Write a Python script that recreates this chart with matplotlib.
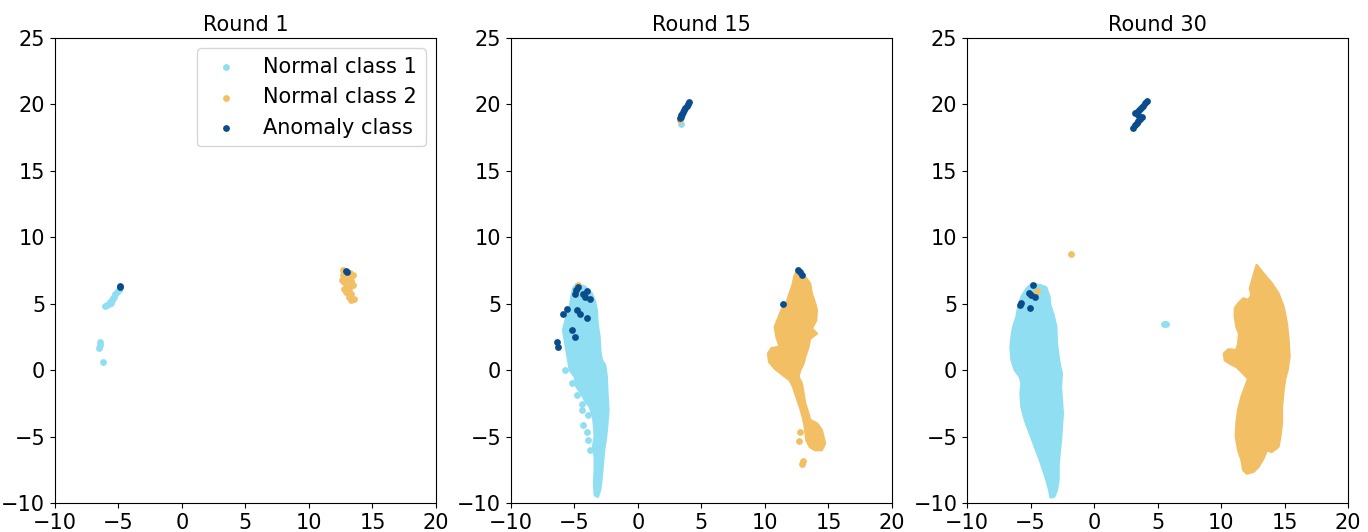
import matplotlib
matplotlib.use("Agg")
import matplotlib.pyplot as plt

# ---------------- data (data units) ----------------
titles = ["Round 1", "Round 15", "Round 30"]
class_names = ["Normal class 1", "Normal class 2", "Anomaly class"]
xticks = [-10, -5, 0, 5, 10, 15, 20]
yticks = [-10, -5, 0, 5, 10, 15, 20, 25]

# Round 1
r1_n1_x = [-5.90, -6.04, -5.78, -5.70, -5.51, -5.38, -5.25, -5.12, -4.99, -5.62, -5.45,
           -6.43, -6.49, -6.51, -6.25]
r1_n1_y = [4.89, 4.81, 4.96, 5.14, 5.31, 5.51, 5.71, 5.89, 6.07, 5.05, 5.40,
           2.13, 1.88, 1.70, 0.62]
r1_n2_x = [12.64, 13.43, 12.77, 13.43, 12.90, 13.30, 13.17, 13.56, 13.30, 12.64, 12.77,
           13.17, 13.04, 12.60, 13.30, 13.00, 13.20, 12.85]
r1_n2_y = [7.52, 7.14, 6.64, 6.39, 5.89, 5.76, 5.51, 5.39, 5.26, 7.14, 6.14,
           6.14, 6.89, 6.80, 6.70, 6.30, 7.30, 7.30]
r1_an_x = [-4.85, -4.90, 12.90, 13.02]
r1_an_y = [6.34, 6.28, 7.44, 7.42]

# Round 15 – dense cloud outlines
r15_n1_hull_x = [-4.83, -4.17, -3.65, -3.39, -3.25, -3.20, -3.04, -2.99, -2.86, -2.60, -2.47,
                 -2.42, -2.34, -2.42, -2.52, -2.68, -2.78, -2.86, -2.99, -3.17, -3.39, -3.44,
                 -3.39, -3.39, -3.52, -3.39, -3.44, -3.52, -3.78, -4.17, -4.44, -4.83, -4.96,
                 -5.35, -5.48, -5.62, -5.75, -5.88, -5.75, -5.62, -5.35, -5.22, -5.09]
r15_n1_hull_y = [6.47, 6.27, 5.77, 5.14, 4.51, 3.51, 2.51, 1.50, 0.75, 0.38, -0.50,
                 -1.75, -3.01, -4.01, -5.01, -6.02, -7.02, -8.02, -9.02, -9.52, -9.40, -8.52,
                 -7.52, -6.52, -5.76, -5.01, -4.26, -3.51, -2.76, -2.26, -1.75, -1.25, -0.50,
                 0.00, 0.75, 1.50, 2.26, 3.01, 3.51, 4.01, 4.76, 5.51, 6.14]
r15_n1_x = [-5.75, -5.22, -4.83, -4.44, -4.44, -3.91, -4.30, -4.04, -3.91, -3.78, 3.39]
r15_n1_y = [0.00, -1.00, -1.88, -2.51, -3.01, -3.38, -4.14, -4.64, -5.26, -6.02, 18.55]

r15_n2_hull_x = [12.62, 13.15, 13.54, 13.67, 13.94, 14.07, 14.02, 13.67, 14.07, 13.54, 13.41,
                 13.15, 13.02, 12.76, 12.62, 12.89, 13.02, 13.15, 13.41, 13.54, 14.07, 14.46,
                 14.72, 14.46, 13.94, 13.54, 13.28, 13.15, 13.02, 12.76, 12.49, 12.23, 11.97,
                 11.44, 10.79, 10.34, 10.26, 10.52, 11.18, 10.92, 10.79, 11.05, 11.31, 11.70,
                 11.91, 12.18, 12.36]
r15_n2_hull_y = [7.64, 7.02, 6.52, 5.77, 5.01, 4.51, 3.76, 3.13, 2.76, 2.38, 1.75,
                 1.00, 0.50, 0.00, -0.50, -1.00, -1.75, -2.51, -3.26, -3.76, -4.01, -4.51,
                 -5.51, -6.01, -6.01, -5.76, -5.26, -4.26, -3.63, -2.76, -2.00, -1.25, -0.75,
                 -0.37, 0.12, 0.63, 1.25, 1.63, 1.75, 2.51, 3.26, 3.88, 4.51, 5.01,
                 5.64, 6.39, 7.14]
r15_n2_x = [12.76, 12.70, 13.02, 12.91, 3.31, -4.70]
r15_n2_y = [-4.64, -5.31, -6.82, -7.07, 18.80, 6.39]

r15_an_x = [-4.70, -4.96, -4.04, -3.78, -4.17, -5.61, -5.88, -4.83, -4.57, -4.04, -5.22,
            -4.96, -6.40, -6.27, -4.85, -4.30,
            4.04, 3.93, 3.83, 3.72, 3.62, 3.53, 3.44, 3.40, 3.36, 3.33,
            12.63, 12.76, 12.89, 11.39]
r15_an_y = [6.26, 5.76, 5.96, 5.39, 5.51, 4.64, 4.26, 4.51, 4.26, 3.89, 3.00,
            2.50, 2.13, 1.75, 6.00, 5.70,
            20.17, 20.05, 19.92, 19.76, 19.60, 19.45, 19.30, 19.18, 19.05, 18.95,
            7.52, 7.39, 7.14, 5.01]

# Round 30 – dense cloud outlines
r30_n1_hull_x = [-4.25, -3.78, -3.52, -3.46, -3.20, -2.99, -2.94, -2.81, -2.68, -2.55, -2.62,
                 -2.55, -2.47, -2.55, -2.62, -2.73, -2.81, -2.81, -2.94, -3.15, -3.41, -3.52,
                 -3.73, -3.99, -4.25, -4.65, -5.04, -5.43, -5.70, -5.77, -5.70, -5.83, -6.22,
                 -6.48, -6.56, -6.48, -6.35, -6.09, -5.96, -5.70, -5.30, -4.91]
r30_n1_hull_y = [6.39, 6.22, 5.51, 4.89, 4.13, 3.26, 2.00, 1.00, 0.25, -0.25, -1.25,
                 -2.26, -3.26, -4.26, -5.26, -6.27, -7.27, -8.27, -9.02, -9.52, -9.57, -9.02,
                 -8.27, -7.52, -6.77, -5.76, -4.76, -3.76, -2.76, -1.75, -1.00, -0.50, 0.00,
                 0.75, 1.75, 2.51, 3.26, 4.01, 4.76, 5.51, 6.14, 6.47]
r30_n1_x = [5.64, 5.52]
r30_n1_y = [3.46, 3.50]

r30_n2_hull_x = [12.81, 13.33, 13.99, 14.51, 14.91, 15.17, 15.30, 15.38, 15.22, 15.04, 14.91,
                 14.78, 14.78, 14.65, 14.51, 13.99, 13.60, 13.33, 12.94, 12.55, 12.02, 11.76,
                 11.63, 11.36, 11.18, 11.23, 11.36, 11.63, 12.02, 12.15, 11.76, 11.23, 10.71,
                 10.31, 10.24, 10.58, 11.23, 11.36, 11.44, 11.23, 11.10, 11.10, 11.36, 11.76,
                 12.15, 12.41, 12.28, 12.55]
r30_n2_hull_y = [7.89, 7.27, 6.52, 5.77, 4.76, 3.51, 2.26, 1.00, 0.00, -0.63, -1.50,
                 -2.76, -4.01, -5.01, -5.76, -6.14, -6.01, -6.64, -7.27, -7.64, -7.77, -7.52,
                 -6.77, -6.01, -5.01, -4.01, -3.01, -2.00, -1.00, -0.63, -0.25, 0.25, 0.50,
                 0.75, 1.25, 1.55, 1.50, 2.00, 2.76, 3.26, 4.01, 4.64, 5.01, 5.39,
                 5.26, 5.64, 6.14, 7.02]
r30_n2_x = [-1.81, -4.52]
r30_n2_y = [8.72, 5.97]

r30_an_x = [-4.78, -5.09, -4.99, -4.65, -5.77, -5.83, -5.04,
            4.15, 4.00, 3.88, 3.72, 3.57, 3.40, 3.23, 3.50, 3.75, 3.60, 3.49, 3.35, 3.23, 3.10]
r30_an_y = [6.39, 5.84, 5.64, 5.51, 5.06, 4.89, 4.69,
            20.25, 20.10, 19.92, 19.75, 19.60, 19.47, 19.35, 19.20, 19.05, 18.90, 18.75, 18.58,
            18.42, 18.25]

panels = [
    dict(n1=(r1_n1_x, r1_n1_y), n2=(r1_n2_x, r1_n2_y), an=(r1_an_x, r1_an_y),
         n1_hull=None, n2_hull=None),
    dict(n1=(r15_n1_x, r15_n1_y), n2=(r15_n2_x, r15_n2_y), an=(r15_an_x, r15_an_y),
         n1_hull=(r15_n1_hull_x, r15_n1_hull_y), n2_hull=(r15_n2_hull_x, r15_n2_hull_y)),
    dict(n1=(r30_n1_x, r30_n1_y), n2=(r30_n2_x, r30_n2_y), an=(r30_an_x, r30_an_y),
         n1_hull=(r30_n1_hull_x, r30_n1_hull_y), n2_hull=(r30_n2_hull_x, r30_n2_hull_y)),
]

# ---------------- style ----------------
c_n1 = "#8fdef1"
c_n2 = "#f2bf64"
c_an = "#0b4d8c"
S = 24
FS = 15

fig = plt.figure(figsize=(13.68, 5.32), dpi=100)
lefts = [0.0402, 0.3735, 0.7069]
for i, p in enumerate(panels):
    ax = fig.add_axes([lefts[i], 0.0545, 0.2785, 0.874])
    if p["n1_hull"] is not None:
        ax.fill(p["n1_hull"][0], p["n1_hull"][1], facecolor=c_n1, edgecolor=c_n1,
                lw=2.0, joinstyle="round", zorder=1)
    ax.scatter(p["n1"][0], p["n1"][1], s=S, color=c_n1, lw=0, zorder=1,
               label=class_names[0])
    if p["n2_hull"] is not None:
        ax.fill(p["n2_hull"][0], p["n2_hull"][1], facecolor=c_n2, edgecolor=c_n2,
                lw=2.0, joinstyle="round", zorder=2)
    ax.scatter(p["n2"][0], p["n2"][1], s=S, color=c_n2, lw=0, zorder=2,
               label=class_names[1])
    ax.scatter(p["an"][0], p["an"][1], s=S, color=c_an, lw=0, zorder=3,
               label=class_names[2])
    ax.set_xlim(-10, 20)
    ax.set_ylim(-10, 25)
    ax.set_xticks(xticks)
    ax.set_yticks(yticks)
    ax.tick_params(labelsize=FS)
    ax.set_title(titles[i], fontsize=FS, pad=5)
    if i == 0:
        ax.legend(loc="upper right", fontsize=FS, scatterpoints=1)

fig.savefig("out.png", dpi=100)
